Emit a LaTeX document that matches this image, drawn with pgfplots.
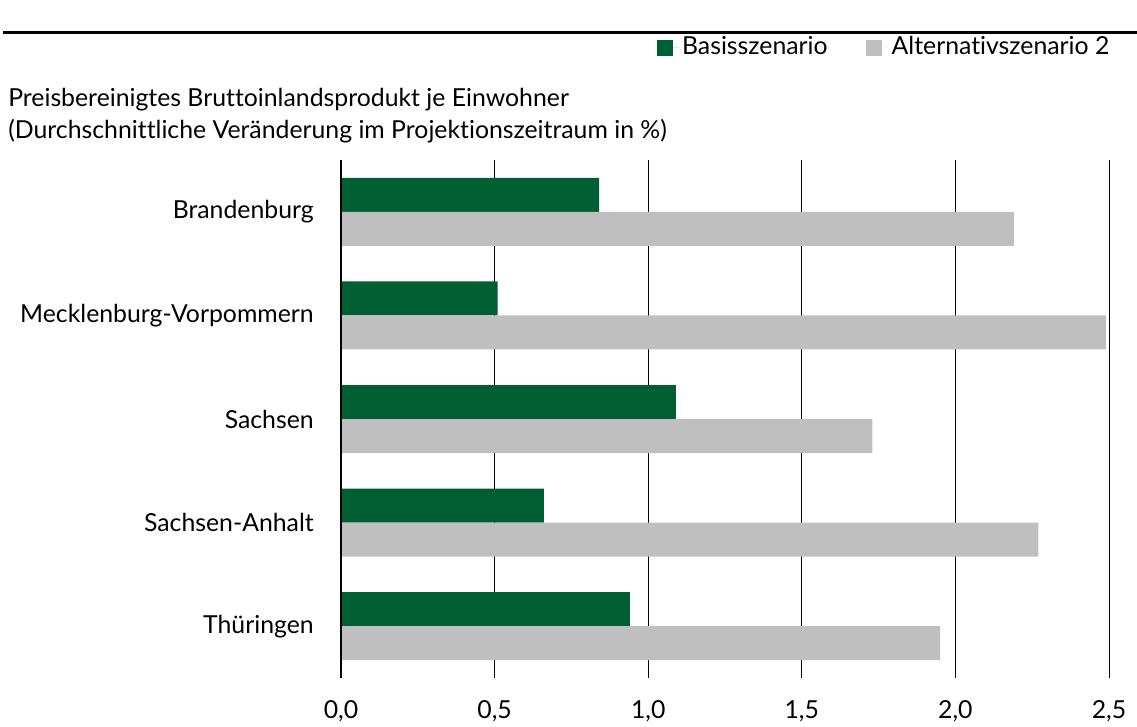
\documentclass[border=0pt]{standalone}
\usepackage{pgfplots}
\pgfplotsset{compat=1.18}
\usepackage{fontspec}
\setmainfont{Lato}[Ligatures={NoCommon}]
\definecolor{basisgreen}{RGB}{0,95,50}
\definecolor{altgray}{RGB}{191,191,191}
\newcommand{\chartfont}{\fontsize{18.6pt}{22pt}\selectfont}
\begin{document}
\begin{tikzpicture}
  \chartfont
  \useasboundingbox (0,0) rectangle (852.75pt,-545.25pt);
  \draw[line width=2.25pt] (2.25pt,-24.75pt) -- (852.75pt,-24.75pt);
  \node[anchor=base west, inner sep=0pt] at (6pt,-80.25pt)
    {Preisbereinigtes Bruttoinlandsprodukt je Einwohner};
  \node[anchor=base west, inner sep=0pt] at (6pt,-104.25pt)
    {(Durchschnittliche Veränderung im Projektionszeitraum in \%)};

  \begin{axis}[
      at={(255.75pt,-120pt)}, anchor=north west,
      scale only axis,
      width=576pt, height=388.5pt,
      xbar, bar width=25.5pt,
      xmin=0, xmax=2.5,
      ymin=-0.5, ymax=4.5,
      y dir=reverse,
      xtick={0,0.5,1,1.5,2,2.5},
      ytick={0,1,2,3,4},
      yticklabels={Brandenburg,Mecklenburg-Vorpommern,Sachsen,Sachsen-Anhalt,Thüringen},
      xmajorgrids,
      major grid style={black, line width=0.75pt},
      axis x line*=bottom,
      axis y line*=left,
      x axis line style={draw=none},
      y axis line style={black, line width=1.1pt, -},
      tick style={draw=none},
      xticklabel style={font=\chartfont, inner sep=0pt, anchor=north, yshift=-17pt},
      yticklabel style={font=\chartfont, inner sep=0pt, anchor=east, xshift=-16pt},
      /pgf/number format/.cd, fixed, fixed zerofill, precision=1, use comma, assume math mode=true,
      /pgfplots/.cd,
      legend columns=2,
      legend style={draw=none, fill=none, at={(axis description cs:1.004,1)}, anchor=south east,
        yshift=74pt, font=\chartfont,
        /tikz/every even column/.append style={column sep=27pt},
        inner sep=0pt, outer sep=0pt},
      legend image code/.code={\fill[#1] (0pt,-6pt) rectangle (12pt,6pt); \path (0pt,0pt) -- (17pt,0pt);},
    ]
    \addplot[draw=none, fill=basisgreen, bar shift=12.75pt] coordinates {
      (0.84,0) (0.51,1) (1.09,2) (0.66,3) (0.94,4)
    };
    \addplot[draw=none, fill=altgray, bar shift=-12.75pt] coordinates {
      (2.19,0) (2.49,1) (1.73,2) (2.27,3) (1.95,4)
    };
    \legend{Basisszenario,Alternativszenario 2}
    \draw[black, line width=1.1pt] (axis cs:0,-0.5) -- (axis cs:0,4.5);
  \end{axis}
\end{tikzpicture}
\end{document}
